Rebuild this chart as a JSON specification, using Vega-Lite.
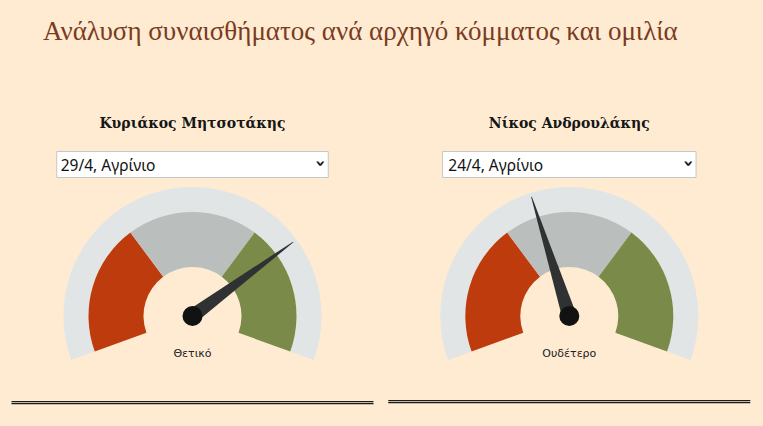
{
  "$schema": "https://vega.github.io/schema/vega-lite/v6.json",
  "width": 763,
  "height": 426,
  "autosize": {"type": "none"},
  "padding": 0,
  "background": "#FEEBD2",
  "config": {"view": {"stroke": null}},
  "title": {
    "text": "Ανάλυση συναισθήματος ανά αρχηγό κόμματος και ομιλία",
    "anchor": "start",
    "frame": "group",
    "orient": "top",
    "offset": 0,
    "dx": 43,
    "dy": 67,
    "baseline": "alphabetic",
    "font": "Liberation Serif",
    "fontSize": 27,
    "fontWeight": "normal",
    "color": "#7A3B1E"
  },
  "datasets": {
    "gauges": [
      {"leader": "Κυριάκος Μητσοτάκης", "speech": "29/4, Αγρίνιο", "score": 0.744, "label": "Θετικό"},
      {"leader": "Νίκος Ανδρουλάκης", "speech": "24/4, Αγρίνιο", "score": 0.42, "label": "Ουδέτερο"}
    ],
    "bands": [
      {"leader": "Κυριάκος Μητσοτάκης", "band": "Αρνητικό", "start": 0, "end": 0.3333},
      {"leader": "Κυριάκος Μητσοτάκης", "band": "Ουδέτερο", "start": 0.3333, "end": 0.6667},
      {"leader": "Κυριάκος Μητσοτάκης", "band": "Θετικό", "start": 0.6667, "end": 1},
      {"leader": "Νίκος Ανδρουλάκης", "band": "Αρνητικό", "start": 0, "end": 0.3333},
      {"leader": "Νίκος Ανδρουλάκης", "band": "Ουδέτερο", "start": 0.3333, "end": 0.6667},
      {"leader": "Νίκος Ανδρουλάκης", "band": "Θετικό", "start": 0.6667, "end": 1}
    ]
  },
  "layer": [
    {
      "data": {"name": "gauges"},
      "mark": {"type": "arc", "y": 316, "radius": 129, "radius2": 104, "color": "#E1E5E5"},
      "encoding": {
        "x": {"field": "leader", "type": "nominal", "axis": null,
              "scale": {"type": "point", "domain": ["Κυριάκος Μητσοτάκης", "Νίκος Ανδρουλάκης"], "range": [192.5, 569.3], "padding": 0}},
        "theta": {"datum": 0, "type": "quantitative", "stack": null, "scale": {"domain": [0, 1], "range": [-1.91986, 1.91986]}},
        "theta2": {"datum": 1}
      }
    },
    {
      "data": {"name": "bands"},
      "mark": {"type": "arc", "y": 316, "radius": 104, "radius2": 49},
      "encoding": {
        "x": {"field": "leader", "type": "nominal", "axis": null},
        "theta": {"field": "start", "type": "quantitative", "stack": null},
        "theta2": {"field": "end"},
        "color": {"field": "band", "type": "nominal", "legend": null,
                  "scale": {"domain": ["Αρνητικό", "Ουδέτερο", "Θετικό"], "range": ["#BE3B0D", "#BABEBD", "#7A8A48"]}}
      }
    },
    {
      "data": {"name": "gauges"},
      "mark": {"type": "point", "y": 316, "filled": true, "opacity": 1, "color": "#2F3132", "size": 62500,
               "shape": "M-0.058,0L-0.003,-1L0.003,-1L0.058,0Z"},
      "encoding": {
        "x": {"field": "leader", "type": "nominal", "axis": null},
        "angle": {"field": "score", "type": "quantitative", "scale": {"domain": [0, 1], "range": [-110, 110]}}
      }
    },
    {
      "data": {"name": "gauges"},
      "mark": {"type": "point", "y": 316, "filled": true, "opacity": 1, "color": "#121212", "size": 400, "shape": "circle"},
      "encoding": {
        "x": {"field": "leader", "type": "nominal", "axis": null}
      }
    },
    {
      "data": {"name": "gauges"},
      "mark": {"type": "text", "y": 356.5, "baseline": "alphabetic", "align": "center", "font": "DejaVu Sans", "fontSize": 11, "color": "#222222"},
      "encoding": {
        "x": {"field": "leader", "type": "nominal", "axis": null},
        "text": {"field": "label"}
      }
    },
    {
      "data": {"name": "gauges"},
      "mark": {"type": "text", "y": 128.3, "baseline": "alphabetic", "align": "center", "font": "DejaVu Serif", "fontWeight": "bold", "fontSize": 14, "color": "#161616"},
      "encoding": {
        "x": {"field": "leader", "type": "nominal", "axis": null},
        "text": {"field": "leader"}
      }
    },
    {
      "data": {"name": "gauges"},
      "mark": {"type": "rect", "y": 151.5, "y2": 177.5, "fill": "#FFFFFF", "stroke": "#C6C6C6", "strokeWidth": 1,
               "width": {"expr": "datum.leader === 'Νίκος Ανδρουλάκης' ? 253.5 : 271.5"}},
      "encoding": {
        "x": {"field": "leader", "type": "nominal", "axis": null}
      }
    },
    {
      "data": {"name": "gauges"},
      "mark": {"type": "text", "y": 170.7, "baseline": "alphabetic", "align": "left", "font": "Noto Sans", "fontSize": 15.5, "color": "#111111",
               "dx": {"expr": "datum.leader === 'Νίκος Ανδρουλάκης' ? -121 : -131.8"}},
      "encoding": {
        "x": {"field": "leader", "type": "nominal", "axis": null},
        "text": {"field": "speech"}
      }
    },
    {
      "data": {"name": "gauges"},
      "mark": {"type": "text", "y": 163.5, "baseline": "middle", "align": "center", "font": "DejaVu Sans", "fontWeight": "bold", "fontSize": 17, "angle": 90, "color": "#111111",
               "dx": 0, "dy": {"expr": "datum.leader === 'Νίκος Ανδρουλάκης' ? -119 : -127"}, "text": "›"},
      "encoding": {
        "x": {"field": "leader", "type": "nominal", "axis": null}
      }
    },
    {
      "data": {"name": "gauges"},
      "mark": {"type": "rect", "fill": "#1A1A1A", "width": 362,
               "y": {"expr": "datum.leader === 'Νίκος Ανδρουλάκης' ? 400 : 401"},
               "y2": {"expr": "datum.leader === 'Νίκος Ανδρουλάκης' ? 401.2 : 402.2"}},
      "encoding": {
        "x": {"field": "leader", "type": "nominal", "axis": null}
      }
    },
    {
      "data": {"name": "gauges"},
      "mark": {"type": "rect", "fill": "#1A1A1A", "width": 362,
               "y": {"expr": "datum.leader === 'Νίκος Ανδρουλάκης' ? 402 : 403"},
               "y2": {"expr": "datum.leader === 'Νίκος Ανδρουλάκης' ? 403.2 : 404.2"}},
      "encoding": {
        "x": {"field": "leader", "type": "nominal", "axis": null}
      }
    }
  ]
}
